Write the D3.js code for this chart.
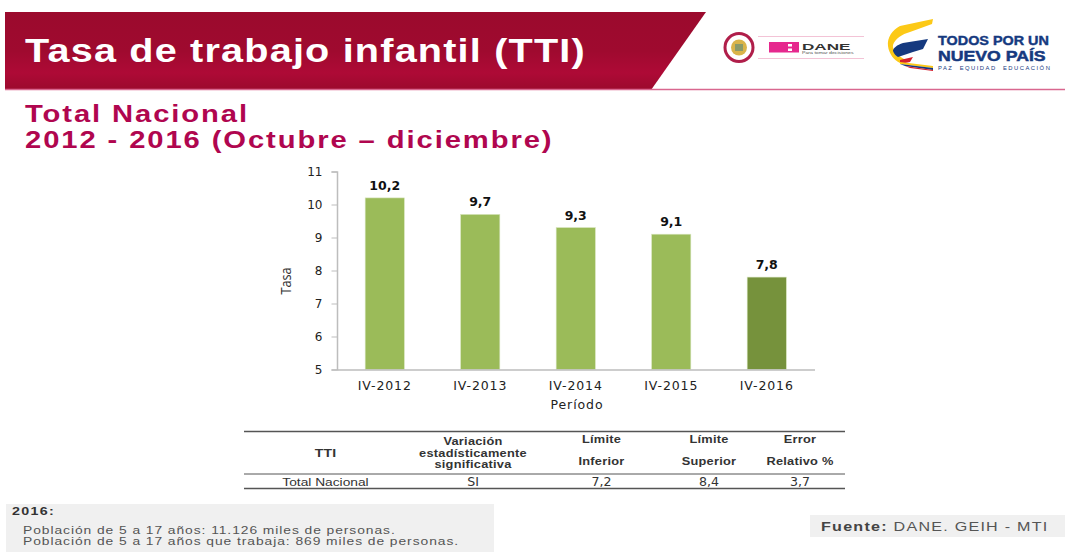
<!DOCTYPE html>
<html>
<head>
<meta charset="utf-8">
<script src="https://cdn.jsdelivr.net/npm/d3@7"></script>
<style>
  html, body { margin: 0; padding: 0; background: #fff; }
  svg { display: block; }
  text { font-family: "Liberation Sans", Arial, sans-serif; }
</style>
</head>
<body>
<svg id="slide" width="1065" height="552"></svg>
<script>
// datos de la grafica
var periods = ["IV-2012", "IV-2013", "IV-2014", "IV-2015", "IV-2016"];
var rates = [10.2, 9.7, 9.3, 9.1, 7.8];
var rateLabels = ["10,2", "9,7", "9,3", "9,1", "7,8"];
var yTicks = [5, 6, 7, 8, 9, 10, 11];

// tabla
var tableHead = [
  ["TTI"],
  ["Variación", "estadísticamente", "significativa"],
  ["Límite", "Inferior"],
  ["Límite", "Superior"],
  ["Error", "Relativo %"]
];
var tableRow = ["Total Nacional", "SI", "7,2", "8,4", "3,7"];
var tableCenters = [325.5, 473, 601.5, 709, 800];

var notes = [
  "Población de 5 a 17 años: 11.126 miles de personas.",
  "Población de 5 a 17 años que trabaja: 869 miles de personas."
];

var svg = d3.select("#slide");
var defs = svg.append("defs");

// el original esta estirado a lo ancho, igual aqui
function stretched(parent, px, py, sx, str) {
  return parent.append("text")
    .attr("transform", `translate(${px},${py}) scale(${sx},1)`)
    .text(str);
}

// encabezado
var grad = defs.append("linearGradient").attr("id", "banner").attr("x2", 0).attr("y2", 1);
grad.append("stop").attr("offset", "0%").attr("stop-color", "#9b0a2d");
grad.append("stop").attr("offset", "50%").attr("stop-color", "#9f0a2f");
grad.append("stop").attr("offset", "78%").attr("stop-color", "#ae0a36");
grad.append("stop").attr("offset", "100%").attr("stop-color", "#9b0a2d");

svg.append("path")
  .attr("d", "M5,12H706L651,90H5Z")
  .attr("fill", "url(#banner)");
svg.append("line")
  .attr("x1", 5).attr("x2", 1065).attr("y1", 89.5).attr("y2", 89.5)
  .attr("stroke", "#d9678f").attr("stroke-width", 1.5);

stretched(svg, 25, 62, 1.2, "Tasa de trabajo infantil (TTI)")
  .attr("fill", "#fff")
  .style("font-size", "33px").style("font-weight", "bold").style("letter-spacing", "1px");

var subtitle = svg.append("g")
  .attr("fill", "#b0064f")
  .style("font-size", "23px").style("font-weight", "bold").style("letter-spacing", "1.5px");
stretched(subtitle, 25, 122, 1.27, "Total Nacional");
stretched(subtitle, 25, 148, 1.27, "2012 - 2016 (Octubre – diciembre)");

// logos
var shield = svg.append("g");
shield.append("circle").attr("cx", 739).attr("cy", 47.5).attr("r", 14).attr("fill", "#fff").attr("stroke", "#b01e4a").attr("stroke-width", 3);
shield.append("circle").attr("cx", 739).attr("cy", 47.5).attr("r", 8).attr("fill", "#d9b44a");
shield.append("rect").attr("x", 735).attr("y", 44).attr("width", 8).attr("height", 7).attr("fill", "#8a9a6a");

var dane = svg.append("g");
dane.append("line").attr("x1", 758).attr("x2", 864).attr("y1", 36.5).attr("y2", 36.5).attr("stroke", "#f3c3d6");
dane.append("line").attr("x1", 758).attr("x2", 864).attr("y1", 58.5).attr("y2", 58.5).attr("stroke", "#f3c3d6");
dane.append("rect").attr("x", 769).attr("y", 42).attr("width", 30).attr("height", 10.5).attr("fill", "#e6288e");
dane.append("rect").attr("x", 788).attr("y", 44).attr("width", 4).attr("height", 2.5).attr("fill", "#fff");
dane.append("rect").attr("x", 788).attr("y", 48.5).attr("width", 4).attr("height", 2.5).attr("fill", "#fff");
stretched(dane, 802, 49.5, 1.9, "DANE").attr("fill", "#333")
  .style("font-size", "9px").style("font-weight", "bold");
stretched(dane, 802, 54, 1.3, "Para tomar decisiones").attr("fill", "#555")
  .style("font-size", "4px");

var flag = svg.append("g");
flag.append("path").attr("d", "M933,19L900,26C892,30 887,38 888,46C889,54 894,60 900,63L906,60C898,56 892,50 893,45C895,39 902,34 910,32L932,24Z").attr("fill", "#fcc917");
flag.append("path").attr("d", "M928,39L903,43C897,45 893,48 893,51C894,54 896,56 898,57L913,52L923,49Z").attr("fill", "#15397f");
flag.append("path").attr("d", "M913,57L900,60L900,64L910,62Z").attr("fill", "#d5202e");
flag.append("path").attr("d", "M900,62L933,66V68L900,64Z").attr("fill", "#fcc917");
flag.append("path").attr("d", "M900,64L933,68V70L905,66Z").attr("fill", "#15397f");
flag.append("path").attr("d", "M905,66L933,70V71L910,68Z").attr("fill", "#d5202e");

var brand = svg.append("g").attr("fill", "#15397f").attr("stroke", "#15397f").style("font-weight", "bold");
stretched(brand, 938, 45, 1.2, "TODOS POR UN").attr("stroke-width", 0.4).style("font-size", "12px");
stretched(brand, 938, 60.5, 1.14, "NUEVO PAÍS").attr("stroke-width", 0.5).style("font-size", "15.5px");
stretched(brand, 938, 69.5, 1.3, "PAZ  EQUIDAD  EDUCACIÓN").attr("stroke", "none")
  .attr("xml:space", "preserve")
  .style("font-size", "4.5px").style("letter-spacing", "1.15px").style("font-weight", "normal");

// grafica de barras
var x = d3.scaleBand()
  .domain(periods)
  .range([337, 814.5])
  .paddingInner(0.59)
  .paddingOuter(0.295);

var y = d3.scaleLinear()
  .domain([5, 11])
  .range([369.5, 171.5]);

var chart = svg.append("g").attr("class", "chart");

chart.selectAll("rect.bar")
  .data(periods)
  .enter()
  .append("rect")
  .attr("class", "bar")
  .attr("x", d => x(d))
  .attr("width", x.bandwidth())
  .attr("y", (d, i) => y(rates[i]))
  .attr("height", (d, i) => y(5) - y(rates[i]))
  .attr("fill", (d, i) => i == 4 ? "#76923c" : "#9bbb59")
  .attr("stroke", "#d7e4bd")
  .attr("stroke-width", 0.6);

chart.selectAll("text.val")
  .data(periods)
  .enter()
  .append("text")
  .attr("class", "val")
  .attr("x", d => x(d) + x.bandwidth() / 2)
  .attr("y", (d, i) => y(rates[i]) - 8)
  .attr("text-anchor", "middle")
  .attr("fill", "#111")
  .style("font-family", "'DejaVu Sans', sans-serif")
  .style("font-size", "12.5px").style("font-weight", "bold")
  .text((d, i) => rateLabels[i]);

var yAxis = chart.append("g")
  .attr("transform", "translate(337,0)")
  .call(d3.axisLeft(y).tickValues(yTicks).tickFormat(d3.format("d")).tickSize(5.5).tickPadding(9));
var xAxis = chart.append("g")
  .attr("transform", "translate(0,369.5)")
  .call(d3.axisBottom(x).tickSize(0).tickPadding(12));

[yAxis, xAxis].forEach(a => {
  a.selectAll("path").attr("stroke", "#bdbdbd").attr("stroke-width", 1.5);
  a.selectAll("line").attr("stroke", "#bdbdbd");
  a.selectAll("text")
    .attr("fill", "#222")
    .style("font-family", "'DejaVu Sans', sans-serif")
    .style("font-size", "12px");
});
xAxis.selectAll("text").style("font-size", "12.5px").style("letter-spacing", "0.9px");

chart.append("text")
  .attr("transform", "translate(291,281) rotate(-90) scale(0.85,1)")
  .attr("text-anchor", "middle")
  .attr("fill", "#333")
  .style("font-family", "'Open Sans', sans-serif")
  .style("font-size", "15px")
  .text("Tasa");
chart.append("text")
  .attr("x", 577).attr("y", 409)
  .attr("text-anchor", "middle")
  .attr("fill", "#222")
  .style("font-family", "'DejaVu Sans', sans-serif")
  .style("font-size", "12.5px").style("letter-spacing", "0.9px")
  .text("Período");

// tabla inferior
var rules = [[431.5, 1.5], [474, 1], [488.5, 1.5]];
svg.append("g").selectAll("line")
  .data(rules)
  .enter()
  .append("line")
  .attr("x1", 244).attr("x2", 845)
  .attr("y1", d => d[0]).attr("y2", d => d[0])
  .attr("stroke", "#555")
  .attr("stroke-width", d => d[1]);

var headLines = [[457], [445, 456.5, 468], [443, 465], [443, 465], [443, 465]];
var headSizes = [11.5, 10.5, 10.5, 10.5, 10.5];
var head = svg.append("g").attr("fill", "#333").attr("text-anchor", "middle").style("font-weight", "bold");
tableHead.forEach((lines, c) => {
  lines.forEach((t, l) => {
    stretched(head, tableCenters[c], headLines[c][l], 1.22, t)
      .style("font-size", headSizes[c] + "px")
      .style("letter-spacing", "0.2px");
  });
});

var row = svg.append("g").attr("fill", "#333").attr("text-anchor", "middle");
tableRow.forEach((t, i) => {
  stretched(row, tableCenters[i], 486, i == 0 ? 1.25 : 1.05, t)
    .style("font-family", i == 0 ? null : "'DejaVu Sans', sans-serif")
    .style("font-size", i == 0 ? "11px" : "12px");
});

// notas
svg.append("rect").attr("x", 6).attr("y", 504).attr("width", 488).attr("height", 48).attr("fill", "#f0f0f0");
stretched(svg, 12, 515, 1.3, "2016:")
  .attr("fill", "#333")
  .style("font-size", "11px").style("font-weight", "bold").style("letter-spacing", "1px");
var noteText = svg.append("g").attr("fill", "#555")
  .style("font-size", "11px").style("letter-spacing", "0.75px");
notes.forEach((t, i) => stretched(noteText, 23, 534 + i * 11, 1.257, t));

svg.append("rect").attr("x", 810).attr("y", 515).attr("width", 255).attr("height", 22).attr("fill", "#f0f0f0");
var source = stretched(svg, 821, 531, 1.24, "")
  .attr("fill", "#555")
  .style("font-size", "13px").style("letter-spacing", "1px");
source.append("tspan").style("font-weight", "bold").attr("fill", "#444").text("Fuente: ");
source.append("tspan").text("DANE. GEIH - MTI");
</script>
</body>
</html>
